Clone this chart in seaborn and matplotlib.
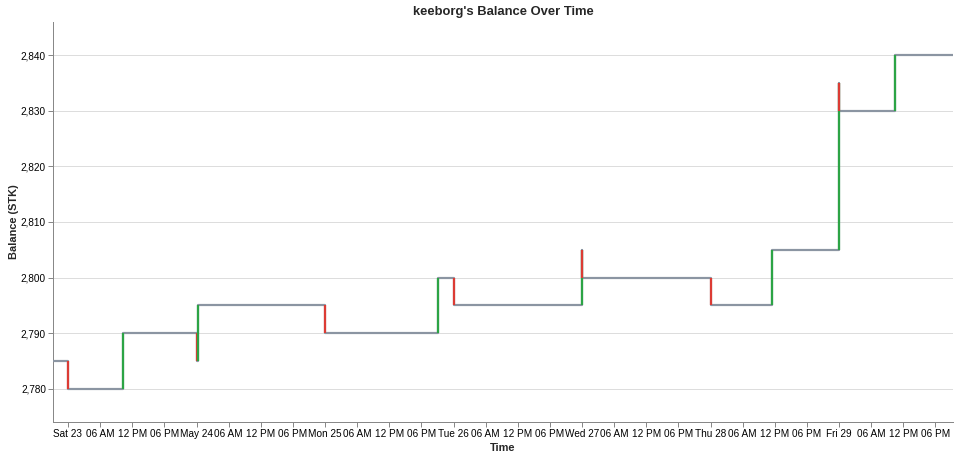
import matplotlib
matplotlib.use("Agg")
import matplotlib.pyplot as plt
import matplotlib.ticker as mticker
import seaborn as sns
import pandas as pd

# ---- data ----
times = [
    "2020-05-22 21:12", "2020-05-23 00:00", "2020-05-23 10:15",
    "2020-05-24 00:00", "2020-05-24 00:22", "2020-05-25 00:00",
    "2020-05-25 21:05", "2020-05-26 00:05", "2020-05-26 23:59",
    "2020-05-27 00:02", "2020-05-28 00:00", "2020-05-28 11:25",
    "2020-05-28 23:59", "2020-05-29 00:01", "2020-05-29 10:30",
    "2020-05-29 21:17",
]
balances = [2785, 2780, 2790, 2785, 2795, 2790, 2800, 2795, 2805, 2800,
            2795, 2805, 2835, 2830, 2840, 2840]
y_ticks = [2780, 2790, 2800, 2810, 2820, 2830, 2840]

title = "keeborg's Balance Over Time"
x_title = "Time"
y_title = "Balance (STK)"

GREY = "#8b95a2"
RED = "#dc3b34"
GREEN = "#2ca445"

PX = 72 / 100  # points per pixel at dpi 100

df = pd.DataFrame({"time": pd.to_datetime(times), "balance": balances})

sns.set_style("white")
plt.rcParams["font.family"] = ["Liberation Sans", "DejaVu Sans"]

fig = plt.figure(figsize=(9.6, 4.59), dpi=100)
W, H = 960, 459
ax = fig.add_axes([53 / W, (H - 422) / H, 900 / W, 400 / H])

sns.lineplot(data=df, x="time", y="balance", ax=ax, color=GREY,
             linewidth=2.2 * PX, drawstyle="steps-post", zorder=3)

# colored change segments
prev = df["balance"].values[:-1]
curr = df["balance"].values[1:]
tt = df["time"].values[1:]
for t, a, b in zip(tt, prev, curr):
    if b == a:
        continue
    c = GREEN if b > a else RED
    ax.vlines(t, a, b, colors=c, linewidth=2.2 * PX, zorder=4)

ax.set_xlim(df["time"].iloc[0], df["time"].iloc[-1])
ax.set_ylim(2774.07, 2845.93)

ax.set_yticks(y_ticks)
ax.yaxis.set_major_formatter(mticker.FuncFormatter(lambda v, p: f"{int(v):,}"))

# x ticks every 6 hours
tick_times = pd.date_range("2020-05-23 00:00", "2020-05-29 18:00", freq="6h")
def lab(ts):
    if ts.hour == 0:
        if ts.dayofweek == 6:
            return ts.strftime("%b %d")
        return ts.strftime("%a %d")
    return ts.strftime("%I %p")
ax.set_xticks(tick_times)
ax.set_xticklabels([lab(t) for t in tick_times])

ax.grid(axis="y", color="#dddddd", linewidth=1 * PX, zorder=0)
ax.grid(axis="x", visible=False)
for s in ["top", "right"]:
    ax.spines[s].set_visible(False)
for s in ["left", "bottom"]:
    ax.spines[s].set_color("#888888")
    ax.spines[s].set_linewidth(1 * PX)
ax.tick_params(axis="both", which="major", length=5 * PX, width=1 * PX,
               color="#888888", labelsize=10 * PX, labelcolor="#000000",
               pad=2 * PX, direction="out", bottom=True, left=True)

ax.set_xlabel(x_title, fontsize=11 * PX, fontweight="bold", labelpad=4 * PX)
ax.set_ylabel(y_title, fontsize=11 * PX, fontweight="bold", labelpad=2 * PX)
ax.set_title(title, fontsize=13 * PX, fontweight="bold", pad=7 * PX)

fig.savefig("out.png", dpi=100)
